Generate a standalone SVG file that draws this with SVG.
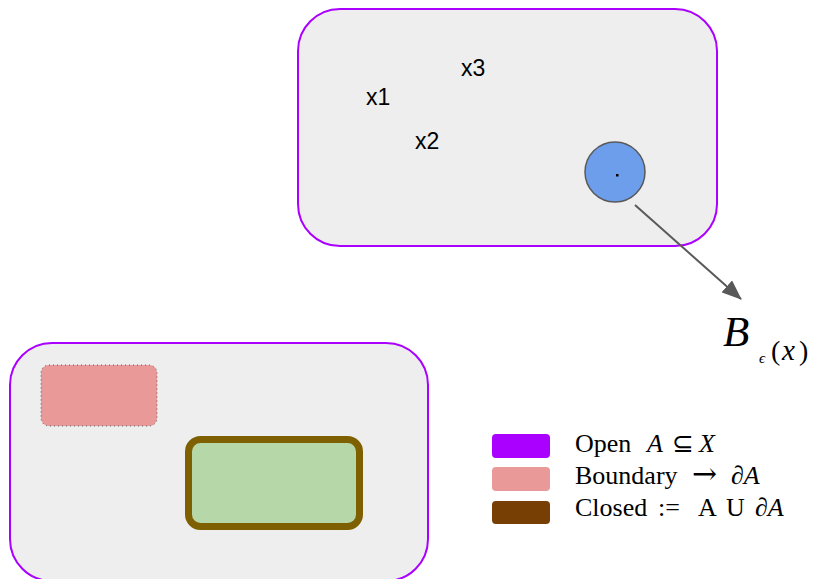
<svg xmlns="http://www.w3.org/2000/svg" width="815" height="579" viewBox="0 0 815 579">
<style>
.set{fill:#eeeeee;stroke:#aa00ff;stroke-width:2}
.lbl{font-family:"Liberation Sans",Arial,sans-serif;font-size:23px;fill:#000}
.math{font-family:"Liberation Serif","Times New Roman",serif;fill:#000}
.it{font-style:italic}
.leg{font-size:26px}
.sym{font-family:"DejaVu Serif",serif}
</style>
<defs>
<marker id="ah" viewBox="0 0 20 16" refX="19" refY="8" markerWidth="20" markerHeight="16" orient="auto" markerUnits="userSpaceOnUse">
<path d="M0,0 L20,8 L0,16 z" fill="#595959"/>
</marker>
</defs>
<rect width="815" height="579" fill="#ffffff"/>
<g id="space-top">
<rect class="set" x="298" y="9" width="419" height="237" rx="42"/>
<text class="lbl" x="366" y="105">x1</text>
<text class="lbl" x="415" y="149">x2</text>
<text class="lbl" x="461" y="76">x3</text>
</g>
<g id="ball">
<circle cx="615" cy="172" r="30" fill="#6d9eeb" stroke="#595959" stroke-width="1.5"/>
<rect x="616" y="174" width="2.5" height="2.5" fill="#000"/>
</g>
<g id="connectors">
<line x1="635" y1="205" x2="741" y2="299" stroke="#595959" stroke-width="2" marker-end="url(#ah)"/>
</g>
<g id="ball-label">
<text class="math" y="346"><tspan class="it" x="723" font-size="43">B</tspan><tspan class="it" x="759" y="363" font-size="15">ϵ</tspan><tspan x="771" y="360" font-size="28">(</tspan><tspan class="it" x="782" font-size="29">x</tspan><tspan x="799" font-size="28">)</tspan></text>
</g>
<g id="space-bottom">
<rect class="set" x="10" y="343" width="418" height="238" rx="42"/>
</g>
<g id="boundary">
<rect x="41" y="365" width="116" height="61" rx="8" fill="#ea9999" stroke="#595959" stroke-width="1" stroke-dasharray="1,3"/>
</g>
<g id="closed">
<rect x="188.5" y="439.5" width="171" height="87" rx="12" fill="#b6d7a8" stroke="#7f6000" stroke-width="7"/>
</g>
<g id="legend">
<rect x="492" y="434" width="58" height="24" rx="4" fill="#aa00ff"/>
<rect x="492" y="467" width="58" height="24" rx="4" fill="#ea9999"/>
<rect x="492" y="501" width="58" height="23" rx="4" fill="#783f04"/>
<text class="math leg" y="452"><tspan x="575">Open</tspan> <tspan class="it" x="647">A</tspan> <tspan x="672">⊆</tspan> <tspan class="it" x="699">X</tspan></text>
<text class="math leg" y="484"><tspan x="575">Boundary</tspan> <tspan class="sym" x="692" font-size="30">→</tspan> <tspan class="it" x="731">∂A</tspan></text>
<text class="math leg" y="516"><tspan x="575">Closed</tspan> <tspan x="658">:=</tspan> <tspan x="698">A</tspan> <tspan x="726">U</tspan> <tspan class="it" x="755">∂A</tspan></text>
</g>
</svg>
